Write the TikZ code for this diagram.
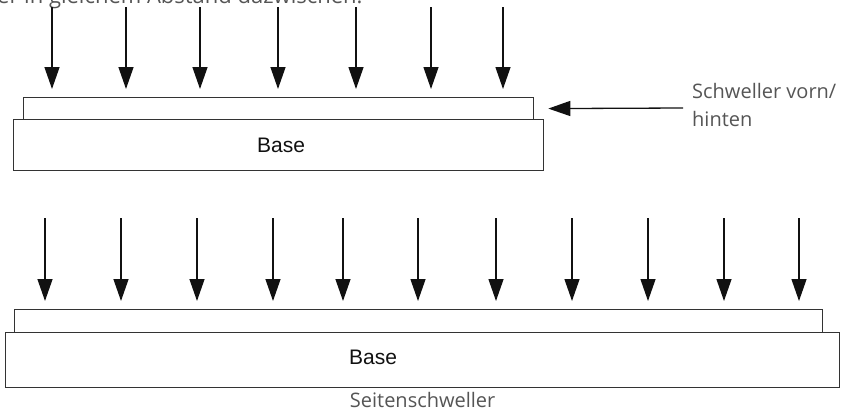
\documentclass[tikz,border=0pt]{standalone}
\usepackage{fontspec}
\setmainfont{Open Sans}
\newfontfamily\basefont{Liberation Sans}
\usetikzlibrary{arrows.meta}
\definecolor{ink}{HTML}{111111}
\definecolor{frame}{HTML}{333333}
\definecolor{note}{HTML}{555555}
\tikzset{
  slab/.style={draw=frame,line width=1.3pt,fill=white,inner sep=0pt,anchor=north west},
  push/.style={-{Triangle[length=22pt,width=15pt]},line width=1.3pt,draw=ink,shorten >=8pt},
  basetext/.style={font=\basefont\fontsize{21}{24}\selectfont,text=ink,inner sep=0pt},
  notetext/.style={font=\fontsize{20}{28}\selectfont,text=note,inner sep=0pt,align=left}
}
\begin{document}
\begin{tikzpicture}[x=1pt,y=-1pt]
\clip (0,0) rectangle (847,415);
% clipped caption at the very top
\node[notetext,anchor=base west,font=\fontsize{22}{28}\selectfont] (intro) at (-3,4) {er in gleichem Abstand dazwischen.};

% front/rear sill
\node[slab,minimum width=530pt,minimum height=51pt] (baseA) at (13,119) {};
\node[basetext] (baseAtext) at (281,145) {Base};
\node[slab,minimum width=510pt,minimum height=22pt] (slabA) at (23,97) {};
\foreach \px [count=\k] in {52,126,200,278,356,431,503}{
  \coordinate (topIn\k) at (\px,7);
  \draw[push] (topIn\k) -- (topIn\k |- slabA.north);
}
\coordinate (sideIn) at (683,108);
\draw[push,shorten >=14pt] (sideIn) -- (slabA.east);
\node[notetext,anchor=north west] (sideNote) at (692,83) {Schweller vorn/\\hinten};

% side sill
\node[slab,minimum width=834pt,minimum height=55pt] (baseB) at (5,332) {};
\node[basetext] (baseBtext) at (373,357) {Base};
\node[slab,minimum width=808pt,minimum height=23pt] (slabB) at (14,309) {};
\foreach \px [count=\k] in {45,121,197,273,343,418,496,572,648,724,799}{
  \coordinate (lowIn\k) at (\px,218);
  \draw[push] (lowIn\k) -- (lowIn\k |- slabB.north);
}
\node[notetext,anchor=north] (lowNote) at (baseB.south) [yshift=-4pt] {Seitenschweller};
\end{tikzpicture}
\end{document}
